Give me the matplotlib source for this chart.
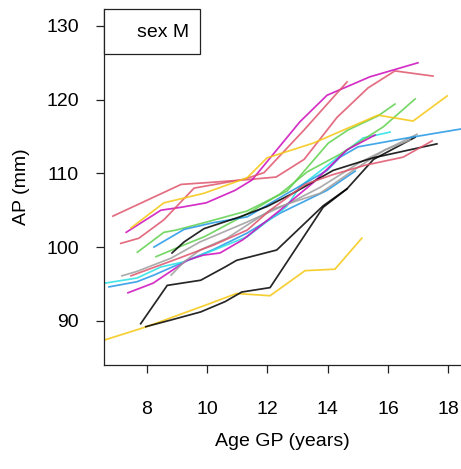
import matplotlib
matplotlib.use("Agg")
import matplotlib.pyplot as plt
from matplotlib.patches import Rectangle

plt.rcParams['font.family'] = ['Liberation Sans', 'DejaVu Sans']

# ---- data (age in years, AP in mm), one individual per pair ----
r1_age = [6.88, 9.14, 10.2, 11.2, 12.29, 13.22, 14.31, 15.34, 16.23, 17.49]
r1_ap = [104.2, 108.5, 108.8, 109.1, 109.5, 111.9, 117.6, 121.6, 123.9, 123.2]

r2_age = [7.14, 7.74, 8.57, 9.57, 11.23, 11.89, 13.22, 14.64]
r2_ap = [100.5, 101.2, 103.7, 108.0, 109.2, 110.1, 115.9, 122.4]

rs_age = [7.48, 8.01, 9.14, 10.23, 11.33, 12.09, 13.25, 14.15, 15.24, 16.50, 17.46]
rs_ap = [96.1, 96.9, 98.6, 100.3, 102.3, 105.0, 108.5, 109.8, 111.1, 112.2, 114.4]

y1_age = [7.48, 8.57, 9.90, 11.33, 11.99, 13.52, 15.67, 16.83, 17.96]
y1_ap = [102.6, 106.0, 107.3, 109.4, 112.1, 114.1, 117.9, 117.1, 120.5]

y2_age = [6.3, 8.0, 9.0, 10.0, 10.98, 12.09, 13.25, 14.24, 15.13]
y2_ap = [87.0, 89.2, 90.7, 92.2, 93.7, 93.4, 96.8, 97.0, 101.2]

m1_age = [7.32, 8.47, 9.14, 9.97, 10.93, 11.49, 13.08, 13.98, 15.40, 16.99]
m1_ap = [102.0, 105.0, 105.4, 106.0, 107.7, 109.1, 117.0, 120.6, 123.1, 125.0]

m2_age = [7.38, 8.21, 9.34, 9.87, 10.43, 11.19, 12.42, 13.51, 14.64, 15.57]
m2_ap = [93.8, 95.1, 98.2, 98.9, 99.2, 101.0, 105.0, 108.7, 113.2, 115.2]

k1_age = [8.84, 9.24, 9.90, 11.09, 11.99, 12.85, 14.18, 15.50, 17.62]
k1_ap = [99.2, 100.7, 102.5, 104.1, 105.5, 107.3, 110.4, 112.1, 114.0]

k2_age = [7.80, 8.68, 9.79, 10.60, 10.98, 12.31, 13.85, 14.64, 15.52, 16.90]
k2_ap = [89.6, 94.8, 95.5, 97.3, 98.2, 99.6, 105.6, 107.9, 111.9, 114.9]

k3_age = [7.97, 8.80, 9.79, 10.60, 11.15, 12.09, 13.85, 14.64]
k3_ap = [89.2, 90.1, 91.2, 92.6, 93.9, 94.5, 105.4, 107.9]

g1_age = [7.69, 8.57, 8.97, 9.90, 11.33, 12.65, 14.02, 14.68, 15.67, 16.23]
g1_ap = [99.3, 102.0, 102.3, 103.3, 104.9, 107.6, 114.1, 115.9, 117.8, 119.4]

g2_age = [8.31, 9.24, 9.91, 11.33, 12.42, 13.32, 14.41, 15.84, 16.90]
g2_ap = [98.7, 100.3, 101.4, 104.5, 107.2, 110.2, 112.6, 116.3, 120.1]

b1_age = [8.24, 9.24, 10.20, 11.33, 12.75, 13.98, 14.41, 15.01, 16.63, 18.39, 18.79]
b1_ap = [100.0, 102.4, 103.3, 104.1, 107.5, 110.4, 112.2, 113.6, 114.8, 116.0, 116.3]

b2_age = [6.75, 7.68, 8.24, 9.24, 10.23, 11.33, 12.42, 13.98, 14.91]
b2_ap = [94.6, 95.3, 96.2, 98.0, 99.7, 101.9, 104.6, 107.7, 110.3]

c1_age = [6.3, 7.68, 8.47, 9.24, 10.23, 11.33, 12.64, 13.08, 15.17, 16.07]
c1_ap = [94.9, 95.8, 97.3, 98.0, 99.6, 101.4, 105.5, 108.2, 114.8, 115.6]

gr1_age = [7.18, 7.68, 8.81, 9.77, 11.33, 12.75, 13.75, 15.07, 16.96]
gr1_ap = [96.1, 96.7, 98.5, 100.7, 103.4, 106.0, 108.1, 111.5, 115.3]

gr2_age = [8.81, 9.24, 9.77, 10.66, 12.09, 12.85, 13.75, 14.81, 15.90, 16.73]
gr2_ap = [96.2, 98.0, 99.6, 101.2, 105.0, 106.1, 107.3, 110.3, 113.2, 114.5]

x_ticks = [8, 10, 12, 14, 16, 18]
y_ticks = [90, 100, 110, 120, 130]
legend_text = "sex M"
x_label = "Age GP (years)"
y_label = "AP (mm)"

# R4 palette
BLACK, RED, GREEN, BLUE = "#000000", "#DF536B", "#61D04F", "#2297E6"
CYAN, MAGENTA, YELLOW, GRAY = "#28E2E5", "#CD0BBC", "#F5C710", "#9E9E9E"

series = [
    (k2_age, k2_ap, BLACK), (r1_age, r1_ap, RED), (g1_age, g1_ap, GREEN),
    (b2_age, b2_ap, BLUE), (c1_age, c1_ap, CYAN), (m1_age, m1_ap, MAGENTA),
    (y2_age, y2_ap, YELLOW), (gr1_age, gr1_ap, GRAY),
    (k3_age, k3_ap, BLACK), (r2_age, r2_ap, RED), (g2_age, g2_ap, GREEN),
    (b1_age, b1_ap, BLUE), (m2_age, m2_ap, MAGENTA), (y1_age, y1_ap, YELLOW),
    (gr2_age, gr2_ap, GRAY), (k1_age, k1_ap, BLACK), (rs_age, rs_ap, RED),
]

W, H = 461, 469
fig = plt.figure(figsize=(W / 100, H / 100), dpi=100)
L, R, T, B = 104, 461, 9, 365
ax = fig.add_axes([L / W, (H - B) / H, (R - L) / W, (B - T) / H])

for a, v, c in series:
    ax.plot(a, v, color=c, lw=1.25, alpha=0.85, solid_joinstyle='miter')

ax.set_xlim(6.584, 18.42)
ax.set_ylim(84.0, 132.3)
ax.set_xticks(x_ticks)
ax.set_yticks(y_ticks)
ax.tick_params(axis='both', labelsize=14, length=6, width=0.9, color='#222222')
ax.tick_params(axis='x', pad=20)
ax.tick_params(axis='y', pad=12)
for s in ['top', 'right']:
    ax.spines[s].set_visible(False)
for s in ['left', 'bottom']:
    ax.spines[s].set_linewidth(0.9)
    ax.spines[s].set_color('#222222')

ax.set_xlabel(x_label, fontsize=14)
ax.xaxis.label.set_va('center')
ax.xaxis.set_label_coords(0.5, -(441 - B) / (B - T))
ax.set_ylabel(y_label, fontsize=14)
ax.yaxis.label.set_va('center')
ax.yaxis.set_label_coords(-(L - 22) / (R - L), 0.5)

# legend box (top-left, text only)
bx1 = (200 - L) / (R - L)
by0 = (B - 54) / (B - T)
ax.add_patch(Rectangle((0, by0), bx1, 1 - by0, transform=ax.transAxes,
                       fill=True, facecolor='white', edgecolor='#222222',
                       lw=0.9, zorder=5, clip_on=False))
ax.text((137 - L) / (R - L), (B - 33) / (B - T), legend_text,
        transform=ax.transAxes, fontsize=14, ha='left', va='center', zorder=6)

fig.savefig("out.png", dpi=100)
